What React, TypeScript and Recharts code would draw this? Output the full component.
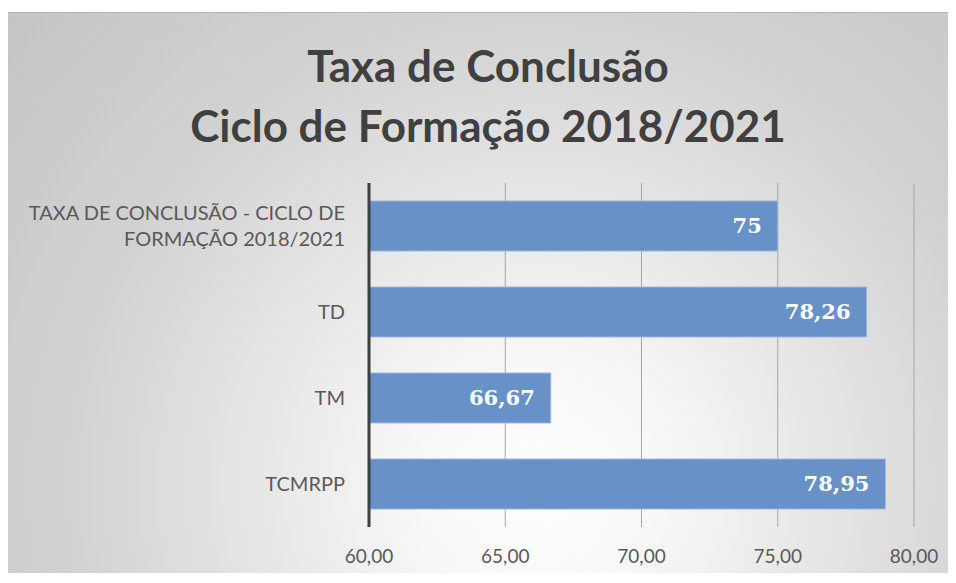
import React from "react";
import { BarChart, Bar, XAxis, YAxis, CartesianGrid, LabelList } from "recharts";

const categories = [
  "TAXA DE CONCLUSÃO - CICLO DE FORMAÇÃO 2018/2021",
  "TD",
  "TM",
  "TCMRPP",
];
const values = [75, 78.26, 66.67, 78.95];
const valueLabels = ["75", "78,26", "66,67", "78,95"];
const xTicks = [60, 65, 70, 75, 80];
const titleLines = ["Taxa de Conclusão", "Ciclo de Formação 2018/2021"];
const yLabelLines: Record<string, string[]> = {
  "TAXA DE CONCLUSÃO - CICLO DE FORMAÇÃO 2018/2021": ["TAXA DE CONCLUSÃO - CICLO DE", "FORMAÇÃO 2018/2021"],
};

const data = categories.map((c, i) => ({ name: c, value: values[i], label: valueLabels[i] }));

const W = 948;
const H = 575;

const YTick = (props: any) => {
  const { x, y, payload } = props;
  const lines = yLabelLines[payload.value] || [payload.value];
  const lh = 26;
  const start = -((lines.length - 1) * lh) / 2;
  return (
    <g transform={`translate(${x},${y})`}>
      {lines.map((l: string, i: number) => (
        <text
          key={i}
          x={0}
          y={start + i * lh}
          dy="0.35em"
          textAnchor="end"
          fill="#595959"
          fontSize={20}
          fontFamily="Lato, 'Open Sans', sans-serif"
        >
          {l}
        </text>
      ))}
    </g>
  );
};

export default function App() {
  return (
    <div style={{ position: "relative", width: W, height: H }}>
      <div
        style={{
          position: "absolute",
          left: 0,
          top: 4,
          width: W,
          height: 561,
          borderTop: "1px solid #b4b4b4",
          boxSizing: "border-box",
          background:
            "radial-gradient(circle at 530px 470px, #ffffff 0px, #f8f8f8 120px, #d2d2d2 470px, #c4c4c4 720px)",
        }}
      />
      <div
        style={{
          position: "absolute",
          left: 0,
          top: 27,
          width: 960,
          textAlign: "center",
          fontFamily: "Lato, sans-serif",
          fontWeight: 700,
          fontSize: 44,
          lineHeight: "60px",
          color: "#404040",
        }}
      >
        {titleLines.map((t, i) => (
          <div key={i}>{t}</div>
        ))}
      </div>
      <div style={{ position: "absolute", left: 0, top: 0 }}>
        <BarChart
          width={W}
          height={H}
          data={data}
          layout="vertical"
          margin={{ top: 175, right: 42, bottom: 26, left: 0 }}
          barCategoryGap={18}
        >
          <CartesianGrid horizontal={false} stroke="#a6a6a6" strokeWidth={1} />
          <XAxis
            type="number"
            domain={[60, 80]}
            ticks={xTicks}
            allowDataOverflow
            height={30}
            axisLine={false}
            tickLine={false}
            tickSize={0}
            tickMargin={23}
            tick={{ fill: "#595959", fontSize: 19, fontFamily: "Lato, sans-serif" }}
            tickFormatter={(v: number) => v.toFixed(2).replace(".", ",")}
          />
          <YAxis
            type="category"
            dataKey="name"
            width={361}
            axisLine={{ stroke: "#404040", strokeWidth: 3 }}
            tickLine={false}
            tickSize={0}
            tickMargin={24}
            tick={<YTick />}
            interval={0}
          />
          <Bar dataKey="value" fill="#6891C7" stroke="#9cb7dc" strokeWidth={1} isAnimationActive={false}>
            <LabelList
              dataKey="label"
              position="insideRight"
              offset={16}
              fill="#ffffff"
              fontSize={21}
              fontWeight={700}
              fontFamily="'DejaVu Serif', 'Liberation Serif', serif"
            />
          </Bar>
        </BarChart>
      </div>
    </div>
  );
}
